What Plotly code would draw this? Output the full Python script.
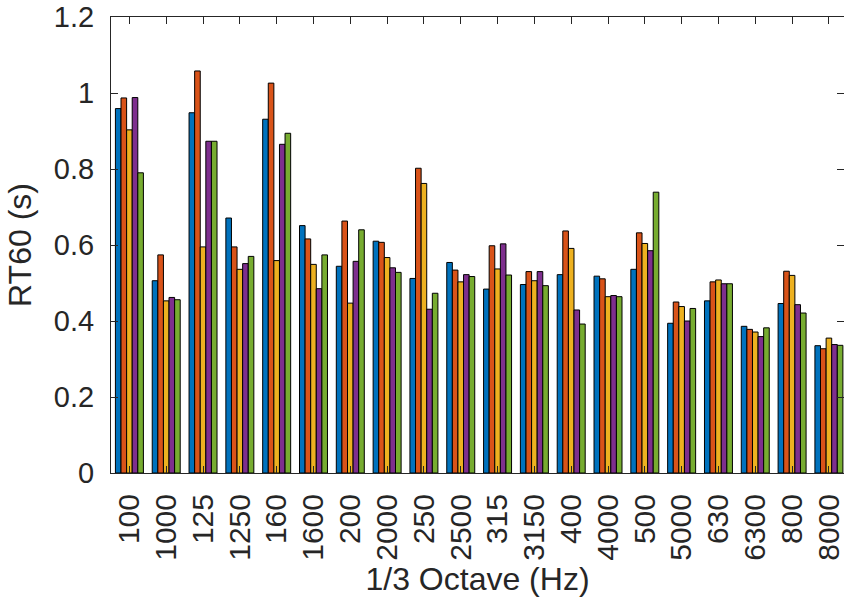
import plotly.graph_objects as go

# 1/3-octave band centre frequencies (Hz), in the order they are plotted
bands = ["100", "1000", "125", "1250", "160", "1600", "200", "2000", "250", "2500",
         "315", "3150", "400", "4000", "500", "5000", "630", "6300", "800", "8000"]

# RT60 (s) per band for each of the five measurements
rt_1 = [0.959, 0.506, 0.948, 0.671, 0.931, 0.651, 0.544, 0.610, 0.512, 0.554,
        0.484, 0.496, 0.522, 0.518, 0.536, 0.394, 0.453, 0.386, 0.446, 0.335]
rt_2 = [0.987, 0.574, 1.058, 0.595, 1.026, 0.616, 0.663, 0.607, 0.802, 0.534,
        0.598, 0.530, 0.637, 0.511, 0.632, 0.450, 0.503, 0.378, 0.531, 0.327]
rt_3 = [0.903, 0.453, 0.595, 0.536, 0.559, 0.549, 0.447, 0.567, 0.762, 0.503,
        0.537, 0.506, 0.591, 0.464, 0.604, 0.438, 0.508, 0.371, 0.520, 0.355]
rt_4 = [0.988, 0.462, 0.873, 0.551, 0.865, 0.485, 0.557, 0.540, 0.431, 0.522,
        0.603, 0.530, 0.429, 0.467, 0.585, 0.400, 0.498, 0.359, 0.443, 0.338]
rt_5 = [0.790, 0.456, 0.873, 0.570, 0.894, 0.574, 0.640, 0.528, 0.473, 0.517,
        0.521, 0.493, 0.392, 0.464, 0.739, 0.433, 0.498, 0.382, 0.421, 0.336]

series = [rt_1, rt_2, rt_3, rt_4, rt_5]
colors = ["#0072BD", "#D95319", "#EDB120", "#7E2F8E", "#77AC30"]

y_ticks = [0, 0.2, 0.4, 0.6, 0.8, 1.0, 1.2]
y_tick_text = ["0", "0.2", "0.4", "0.6", "0.8", "1", "1.2"]

ink = "#262626"
font_family = "Liberation Sans, Arial, Helvetica, sans-serif"

fig = go.Figure()
for vals, col in zip(series, colors):
    fig.add_trace(go.Bar(
        x=list(range(len(bands))), y=vals,
        marker=dict(color=col, line=dict(color="#000000", width=1)),
        showlegend=False,
    ))

# invisible companion trace so a right-hand axis can carry mirrored ticks
fig.add_trace(go.Scatter(x=[0], y=[0], yaxis="y2", mode="markers",
                         marker=dict(opacity=0), showlegend=False, hoverinfo="skip"))

fig.update_layout(
    width=844, height=598,
    margin=dict(l=111, r=0, t=17, b=125, autoexpand=False),
    paper_bgcolor="white", plot_bgcolor="white",
    barmode="group", bargap=0.24, bargroupgap=0.0,
    font=dict(family=font_family, color=ink, size=29),
    xaxis=dict(
        range=[-0.5, 19.41],
        tickmode="array", tickvals=list(range(len(bands))), ticktext=bands,
        tickangle=-90, ticks="inside", ticklen=7, tickcolor=ink, tickwidth=1,
        showline=True, linecolor=ink, linewidth=1, mirror="ticks",
        showgrid=False, zeroline=False,
        tickfont=dict(size=30), ticklabelstandoff=8, ticklabeloverflow="allow",
        title=dict(text="1/3 Octave (Hz)", font=dict(size=32), standoff=4),
        automargin=False,
    ),
    yaxis=dict(
        range=[0, 1.2],
        tickmode="array", tickvals=y_ticks, ticktext=y_tick_text,
        ticks="inside", ticklen=7, tickcolor=ink, tickwidth=1,
        showline=True, linecolor=ink, linewidth=1,
        showgrid=False, zeroline=False,
        tickfont=dict(size=29), ticklabelstandoff=10,
        title=dict(text="RT60 (s)", font=dict(size=32), standoff=12),
        automargin=False,
    ),
    yaxis2=dict(
        range=[0, 1.2], overlaying="y", side="right", matches="y",
        tickmode="array", tickvals=y_ticks,
        ticks="inside", ticklen=7, tickcolor=ink, tickwidth=1,
        showticklabels=False, showline=False, showgrid=False, zeroline=False,
    ),
)

fig.write_html("out.html")
